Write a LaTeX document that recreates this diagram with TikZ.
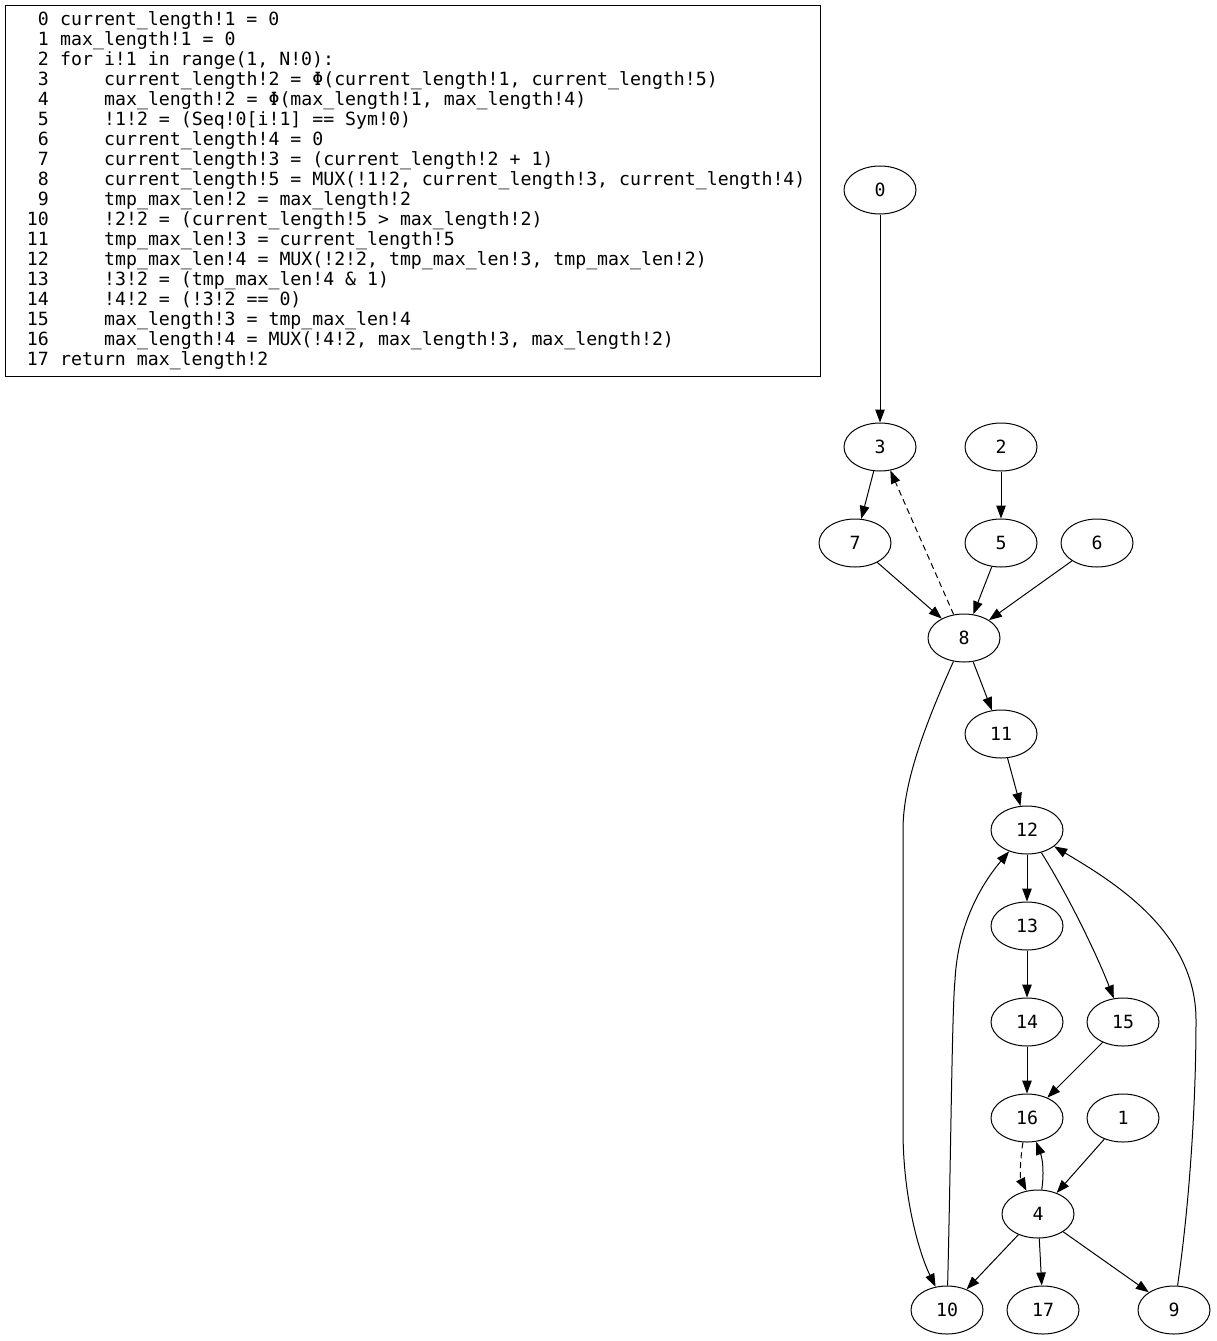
\documentclass[tikz,border=0pt]{standalone}
\usepackage{fontspec}
\newfontfamily\dvm{DejaVu Sans Mono}
\usetikzlibrary{shapes.geometric,arrows.meta}
\begin{document}
\begin{tikzpicture}[x=1pt,y=-1pt,
  gnode/.style={ellipse,draw,line width=1pt,minimum width=72pt,minimum height=48pt,inner sep=0pt,font=\dvm\fontsize{18.2}{20}\selectfont},
  edge/.style={line width=1pt,-{Triangle[length=13pt,width=9.5pt]}},
  dashededge/.style={edge,dash pattern=on 6pt off 4pt},
  codetxt/.style={inner sep=0pt,font=\dvm\fontsize{18.2}{20}\selectfont}]
\useasboundingbox (0,0) rectangle (1217,1341);
\node[draw,line width=1pt,minimum width=815pt,minimum height=371pt,anchor=north west,inner sep=0pt] (box) at (5,5) {};
\foreach \num/\ind/\txt [count=\k from 0] in {
  0/60/{current\_length!1 = 0},
  1/60/{max\_length!1 = 0},
  2/60/{for i!1 in range(1, N!0):},
  3/104/{current\_length!2 = Φ(current\_length!1, current\_length!5)},
  4/104/{max\_length!2 = Φ(max\_length!1, max\_length!4)},
  5/104/{!1!2 = (Seq!0[i!1] == Sym!0)},
  6/104/{current\_length!4 = 0},
  7/104/{current\_length!3 = (current\_length!2 + 1)},
  8/104/{current\_length!5 = MUX(!1!2, current\_length!3, current\_length!4)},
  9/104/{tmp\_max\_len!2 = max\_length!2},
  10/104/{!2!2 = (current\_length!5 > max\_length!2)},
  11/104/{tmp\_max\_len!3 = current\_length!5},
  12/104/{tmp\_max\_len!4 = MUX(!2!2, tmp\_max\_len!3, tmp\_max\_len!2)},
  13/104/{!3!2 = (tmp\_max\_len!4 \& 1)},
  14/104/{!4!2 = (!3!2 == 0)},
  15/104/{max\_length!3 = tmp\_max\_len!4},
  16/104/{max\_length!4 = MUX(!4!2, max\_length!3, max\_length!2)},
  17/60/{return max\_length!2}} {
  \node[codetxt,anchor=base east] (num\k) at (49,{25.6+20*\k}) {\num};
  \node[codetxt,anchor=base west] (line\k) at (\ind,{25.6+20*\k}) {\txt};
}
% graph nodes
\node[gnode] (n0) at (880,190) {0};
\node[gnode] (n3) at (880,447) {3};
\node[gnode] (n2) at (1001,447) {2};
\node[gnode] (n7) at (855,543) {7};
\node[gnode] (n5) at (1001,543) {5};
\node[gnode] (n6) at (1097,543) {6};
\node[gnode] (n8) at (964,638) {8};
\node[gnode] (n11) at (1001,734) {11};
\node[gnode] (n12) at (1027,830) {12};
\node[gnode] (n13) at (1027,926) {13};
\node[gnode] (n14) at (1027,1022) {14};
\node[gnode] (n15) at (1123,1022) {15};
\node[gnode] (n16) at (1027,1118) {16};
\node[gnode] (n1) at (1123,1118) {1};
\node[gnode] (n4) at (1038,1214) {4};
\node[gnode] (n10) at (947,1310) {10};
\node[gnode] (n17) at (1043,1310) {17};
\node[gnode] (n9) at (1174,1310) {9};
% edges
\draw[edge] (n0) -- (n3);
\draw[edge] (n3) -- (n7);
\draw[dashededge] (n8) -- (n3);
\draw[edge] (n2) -- (n5);
\draw[edge] (n7) -- (n8);
\draw[edge] (n5) -- (n8);
\draw[edge] (n6) -- (n8);
\draw[edge] (n8) -- (n11);
\draw[edge] (n8) .. controls (918,740) and (903,790) .. (903,830) -- (903,1130) .. controls (903,1200) and (920,1255) .. (n10);
\draw[edge] (n11) -- (n12);
\draw[edge] (n12) -- (n13);
\draw[edge] (n12) .. controls (1065,890) and (1095,950) .. (n15);
\draw[edge] (n10) .. controls (951,1150) and (952,1010) .. (955,980) .. controls (958,920) and (985,880) .. (n12);
\draw[edge] (n9) .. controls (1190,1200) and (1196,1100) .. (1196,1020) .. controls (1196,930) and (1110,880) .. (n12);
\draw[edge] (n13) -- (n14);
\draw[edge] (n14) -- (n16);
\draw[edge] (n15) -- (n16);
\draw[dashededge] (n16) .. controls (1020,1160) and (1020,1178) .. (n4);
\draw[edge] (n4) .. controls (1044,1175) and (1043,1160) .. (n16);
\draw[edge] (n1) -- (n4);
\draw[edge] (n4) -- (n10);
\draw[edge] (n4) -- (n17);
\draw[edge] (n4) -- (n9);
\end{tikzpicture}
\end{document}
